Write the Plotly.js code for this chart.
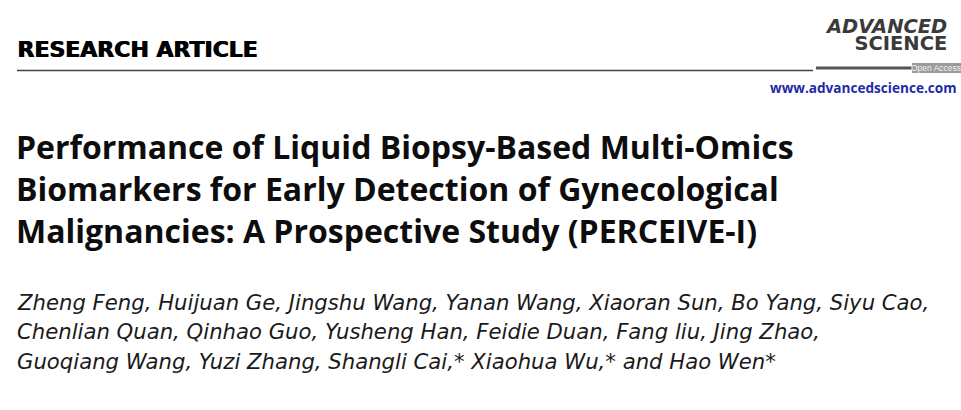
<!DOCTYPE html>
<html>
<head>
<meta charset="utf-8">
<script src="https://cdn.plot.ly/plotly-3.0.1.min.js"></script>
<style>html,body{margin:0;padding:0;background:#fff;}#chart{width:961px;height:410px;}</style>
</head>
<body>
<div id="chart"></div>
<script>
var sectionLabel = "RESEARCH ARTICLE";
var journalName = ["ADVANCED", "SCIENCE"];
var badgeLabel = "Open Access";
var journalUrl = "www.advancedscience.com";
var titleLines = [
  "Performance of Liquid Biopsy-Based Multi-Omics",
  "Biomarkers for Early Detection of Gynecological",
  "Malignancies: A Prospective Study (PERCEIVE-I)"
];
var authorLines = [
  "Zheng Feng, Huijuan Ge, Jingshu Wang, Yanan Wang, Xiaoran Sun, Bo Yang, Siyu Cao,",
  "Chenlian Quan, Qinhao Guo, Yusheng Han, Feidie Duan, Fang liu, Jing Zhao,",
  "Guoqiang Wang, Yuzi Zhang, Shangli Cai,* Xiaohua Wu,* and Hao Wen*"
];

var ann = [];
function add(t, x, y, font, xanchor, extra) {
  var a = {text: t, x: x, y: y, xref: 'x', yref: 'y', xanchor: xanchor || 'left', yanchor: 'middle',
           showarrow: false, font: font, borderpad: 0};
  if (extra) for (var k in extra) a[k] = extra[k];
  ann.push(a);
}
// heavy section label (drawn twice, 0.8 px apart, to thicken the strokes)
add(sectionLabel, 16, 49, {family: 'DejaVu Sans', size: 22, color: '#000', weight: 'bold'});
add(sectionLabel, 16.8, 49, {family: 'DejaVu Sans', size: 22, color: '#000', weight: 'bold'});
// journal logo: one two-line text, small base size gives tight line spacing, big spans give letter size
var big = '<span style="font-size:19.5px">';
add(big + '<i>' + journalName[0] + '</i></span><br>' + big + journalName[1] + '</span>', 948, 35,
    {family: 'DejaVu Sans', size: 13, color: '#3a3a3a', weight: 'bold'}, 'right', {align: 'right'});
add(badgeLabel, 936, 68, {family: 'Liberation Sans', size: 8.5, color: '#f4f4f4'}, 'center');
add(journalUrl, 769, 87, {family: 'Open Sans', size: 13.6, color: '#1f2aa8', weight: 'bold'});
titleLines.forEach(function (t, i) {
  add(t, 15, 146 + i * 42, {family: 'Open Sans', size: 32, color: '#0d0d0d', weight: 'bold'});
});
authorLines.forEach(function (t, i) {
  add('<i>' + t + '</i>', 16, 302 + i * 29.5, {family: 'DejaVu Sans', size: 21.2, color: '#1a1a1a'});
});

var shapes = [
  {type: 'line', xref: 'x', yref: 'y', x0: 17, x1: 813, y0: 70.5, y1: 70.5, line: {color: '#444', width: 1.5}},
  {type: 'line', xref: 'x', yref: 'y', x0: 816, x1: 912, y0: 68, y1: 68, line: {color: '#555', width: 3}},
  {type: 'rect', xref: 'x', yref: 'y', x0: 912, x1: 963, y0: 63, y1: 73, fillcolor: '#9a9a9a', line: {width: 0}}
];

var layout = {
  width: 961, height: 410,
  margin: {l: 0, r: 0, t: 0, b: 0},
  paper_bgcolor: '#fff', plot_bgcolor: '#fff',
  xaxis: {range: [0, 961], visible: false, fixedrange: true},
  yaxis: {range: [410, 0], visible: false, fixedrange: true},
  showlegend: false,
  annotations: ann,
  shapes: shapes
};
Plotly.newPlot('chart', [], layout, {staticPlot: true, displayModeBar: false});
</script>
</body>
</html>
